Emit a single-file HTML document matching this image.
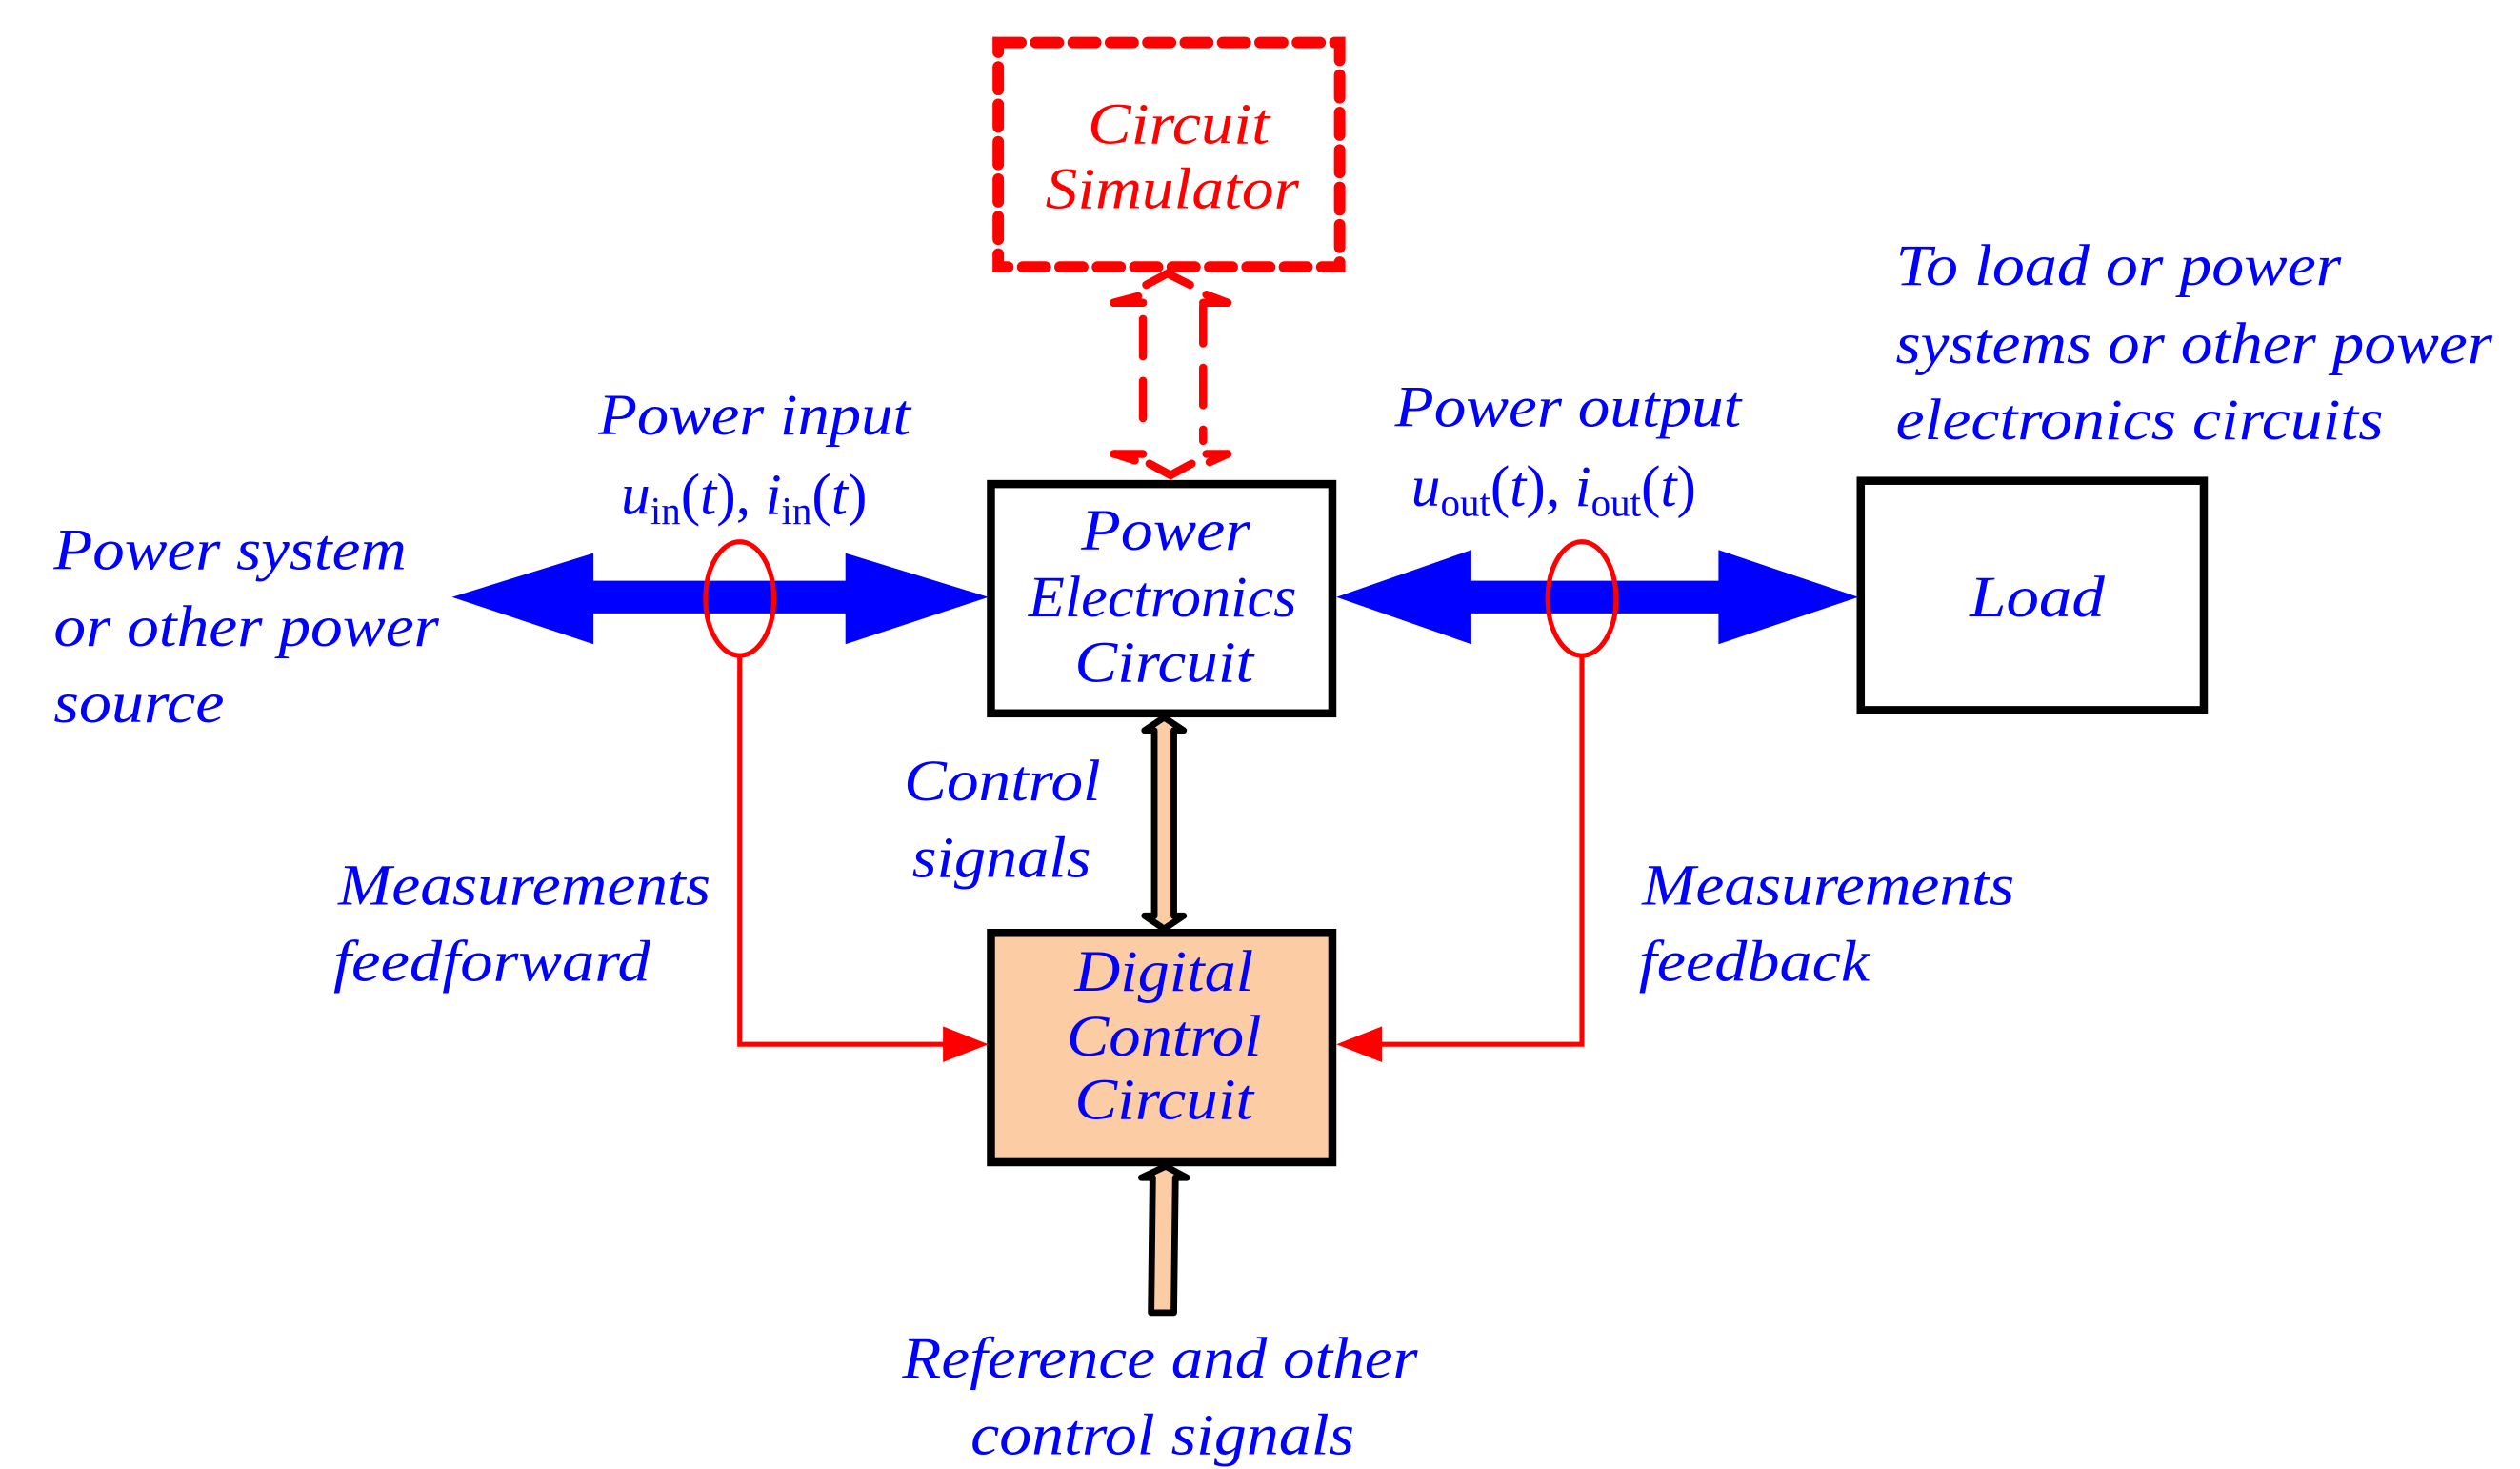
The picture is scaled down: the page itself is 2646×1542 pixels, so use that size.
<!DOCTYPE html>
<html><head><meta charset="utf-8"><style>
html,body{margin:0;padding:0;background:#fff;}
svg{display:block;}
text{font-family:"Liberation Serif",serif;font-style:italic;font-size:36px;fill:#0000ff;}
</style></head><body>
<svg width="2646" height="1542" viewBox="0 0 1550 903" xmlns="http://www.w3.org/2000/svg">
<!-- Circuit simulator -->
<rect x="614" y="26" width="210" height="138" fill="none" stroke="#ff0000" stroke-width="7" stroke-dasharray="14,9" stroke-linecap="round"/>
<text x="725" y="88" text-anchor="middle" style="fill:#ff0000" textLength="112" lengthAdjust="spacingAndGlyphs">Circuit</text>
<text x="721" y="128" text-anchor="middle" style="fill:#ff0000" textLength="156" lengthAdjust="spacingAndGlyphs">Simulator</text>
<g stroke="#ff0000" stroke-width="5" fill="none" stroke-linecap="round">
<line x1="703" y1="196" x2="703" y2="271" stroke-dasharray="23,15"/>
<line x1="740" y1="188" x2="740" y2="271" stroke-dasharray="23,15"/>
<polyline points="685,186 700,182"/><polyline points="686,186 703,186"/>
<polyline points="755,186 740,186"/><polyline points="755,186 742,181"/>
<polyline points="705,175 718,168 732,175"/>
<polyline points="685,279 703,279"/><polyline points="686,279 698,283"/>
<polyline points="755,279 742,279"/><polyline points="755,279 744,284"/>
<polyline points="707,285 720,292 733,285"/>
</g>
<!-- Power electronics box -->
<rect x="609.5" y="297.5" width="210" height="141" fill="#fff" stroke="#000" stroke-width="5"/>
<text x="717" y="338" text-anchor="middle" textLength="104" lengthAdjust="spacingAndGlyphs">Power</text>
<text x="715" y="379" text-anchor="middle" textLength="165" lengthAdjust="spacingAndGlyphs">Electronics</text>
<text x="716" y="419" text-anchor="middle" textLength="110" lengthAdjust="spacingAndGlyphs">Circuit</text>
<!-- Load -->
<rect x="1144.5" y="295.5" width="211" height="141" fill="#fff" stroke="#000" stroke-width="5"/>
<text x="1253" y="379" text-anchor="middle" textLength="83" lengthAdjust="spacingAndGlyphs">Load</text>
<!-- Digital control -->
<rect x="609.5" y="573.5" width="210" height="141" fill="#fccca5" stroke="#000" stroke-width="5"/>
<text x="716" y="609" text-anchor="middle" textLength="110" lengthAdjust="spacingAndGlyphs">Digital</text>
<text x="716" y="649" text-anchor="middle" textLength="120" lengthAdjust="spacingAndGlyphs">Control</text>
<text x="716" y="688" text-anchor="middle" textLength="110" lengthAdjust="spacingAndGlyphs">Circuit</text>
<!-- Blue arrows -->
<polygon fill="#0000ff" points="278,367 365,340 365,357 520,357 520,340 608,367 520,396 520,377 365,377 365,396"/>
<polygon fill="#0000ff" points="822,367 905,338 905,357 1057,357 1057,338 1143,367 1057,396 1057,377 905,377 905,396"/>
<!-- Red ellipses & lines -->
<g stroke="#ff0000" stroke-width="3" fill="none">
<ellipse cx="455" cy="368" rx="21" ry="35"/>
<ellipse cx="973" cy="368" rx="21" ry="35"/>
<polyline points="455,403 455,642 585,642"/>
<polyline points="973,403 973,642 846,642"/>
</g>
<polygon fill="#ff0000" points="608,642 580,631 580,653"/>
<polygon fill="#ff0000" points="822,642 850,631 850,653"/>
<!-- Control signals double arrow -->
<polygon fill="#fccca5" stroke="#000" stroke-width="4" stroke-linejoin="round" points="716,441 728,449 722,449 722,563 728,563 716,571 704,563 710,563 710,449 704,449"/>
<!-- Reference arrow -->
<polygon fill="#fccca5" stroke="#000" stroke-width="4" stroke-linejoin="round" points="717,717 730,724 723,724 722,807 708,807 709,724 702,724"/>
<!-- Labels -->
<text x="33" y="350" textLength="217" lengthAdjust="spacingAndGlyphs">Power system</text>
<text x="33" y="397" textLength="237" lengthAdjust="spacingAndGlyphs">or other power</text>
<text x="33" y="444" textLength="105" lengthAdjust="spacingAndGlyphs">source</text>
<text x="368" y="267" textLength="192" lengthAdjust="spacingAndGlyphs">Power input</text>
<text x="382" y="316">u<tspan font-style="normal" font-size="24" dy="6">in</tspan><tspan dy="-6" font-style="normal">(</tspan>t<tspan font-style="normal">), </tspan>i<tspan font-style="normal" font-size="24" dy="6">in</tspan><tspan dy="-6" font-style="normal">(</tspan>t<tspan font-style="normal">)</tspan></text>
<text x="858" y="262" textLength="213" lengthAdjust="spacingAndGlyphs">Power output</text>
<text x="868" y="311">u<tspan font-style="normal" font-size="24" dy="6">out</tspan><tspan dy="-6" font-style="normal">(</tspan>t<tspan font-style="normal">), </tspan>i<tspan font-style="normal" font-size="24" dy="6">out</tspan><tspan dy="-6" font-style="normal">(</tspan>t<tspan font-style="normal">)</tspan></text>
<text x="1166" y="175" textLength="274" lengthAdjust="spacingAndGlyphs">To load or power</text>
<text x="1166" y="223" textLength="367" lengthAdjust="spacingAndGlyphs">systems or other power</text>
<text x="1166" y="270" textLength="300" lengthAdjust="spacingAndGlyphs">electronics circuits</text>
<text x="556" y="492" textLength="121" lengthAdjust="spacingAndGlyphs">Control</text>
<text x="561" y="539" textLength="110" lengthAdjust="spacingAndGlyphs">signals</text>
<text x="208" y="556" textLength="229" lengthAdjust="spacingAndGlyphs">Measurements</text>
<text x="205" y="603" textLength="195" lengthAdjust="spacingAndGlyphs">feedforward</text>
<text x="1010" y="556" textLength="229" lengthAdjust="spacingAndGlyphs">Measurements</text>
<text x="1008" y="603" textLength="142" lengthAdjust="spacingAndGlyphs">feedback</text>
<text x="555" y="847" textLength="317" lengthAdjust="spacingAndGlyphs">Reference and other</text>
<text x="597" y="894" textLength="236" lengthAdjust="spacingAndGlyphs">control signals</text>
</svg>
</body></html>
